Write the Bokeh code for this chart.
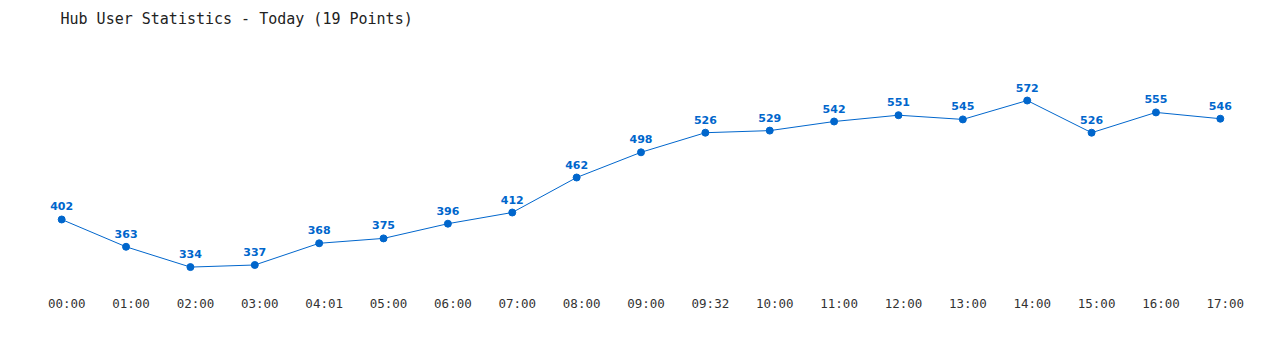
from bokeh.plotting import figure
from bokeh.models import Range1d, ColumnDataSource, FixedTicker, Label
from bokeh.core.properties import value
from bokeh.embed import file_html
from bokeh.resources import INLINE

title_text = "Hub User Statistics - Today (19 Points)"
times = ["00:00", "01:00", "02:00", "03:00", "04:01", "05:00", "06:00", "07:00", "08:00",
         "09:00", "09:32", "10:00", "11:00", "12:00", "13:00", "14:00", "15:00", "16:00", "17:00"]
users = [402, 363, 334, 337, 368, 375, 396, 412, 462, 498, 526, 529, 542, 551, 545, 572, 526, 555, 546]

idx = list(range(len(times)))
src = ColumnDataSource(dict(x=idx, y=users, lbl=[str(u) for u in users]))

p = figure(width=1280, height=350, output_backend="svg", toolbar_location=None,
           x_range=Range1d(-0.5, len(times) - 0.5), y_range=Range1d(307.7, 714.9),
           min_border_left=29, min_border_right=28, min_border_top=0, min_border_bottom=65)

p.outline_line_color = None
p.xgrid.visible = False
p.ygrid.visible = False
p.yaxis.visible = False
p.background_fill_color = "white"
p.border_fill_color = "white"

ax = p.xaxis[0]
tick_pos = [i + 0.078 for i in idx]
ax.ticker = FixedTicker(ticks=tick_pos)
ax.major_label_overrides = {t: s for t, s in zip(tick_pos, times)}
ax.axis_line_color = None
ax.major_tick_line_color = None
ax.minor_tick_line_color = None
ax.major_tick_out = 0
ax.major_tick_in = 0
ax.major_label_standoff = 10
ax.major_label_text_font = "DejaVu Sans Mono"
ax.major_label_text_font_size = "12.5px"
ax.major_label_text_color = "#333333"

p.line("x", "y", source=src, line_color="#0066cc", line_width=1)
p.scatter("x", "y", source=src, size=7, fill_color="#0066cc", line_color="#0066cc")
p.text("x", "y", text="lbl", source=src, text_font=value("DejaVu Sans"), text_font_style="bold",
       text_font_size="11px", text_color="#0066cc", text_align="center",
       text_baseline="alphabetic", y_offset=-13)

title = Label(x=31, y=267, x_units="screen", y_units="screen", text=title_text,
              text_font="DejaVu Sans Mono", text_font_size="15px", text_color="#222222",
              text_baseline="middle", text_align="left")
p.add_layout(title)

open("out.html", "w").write(file_html(p, INLINE))
